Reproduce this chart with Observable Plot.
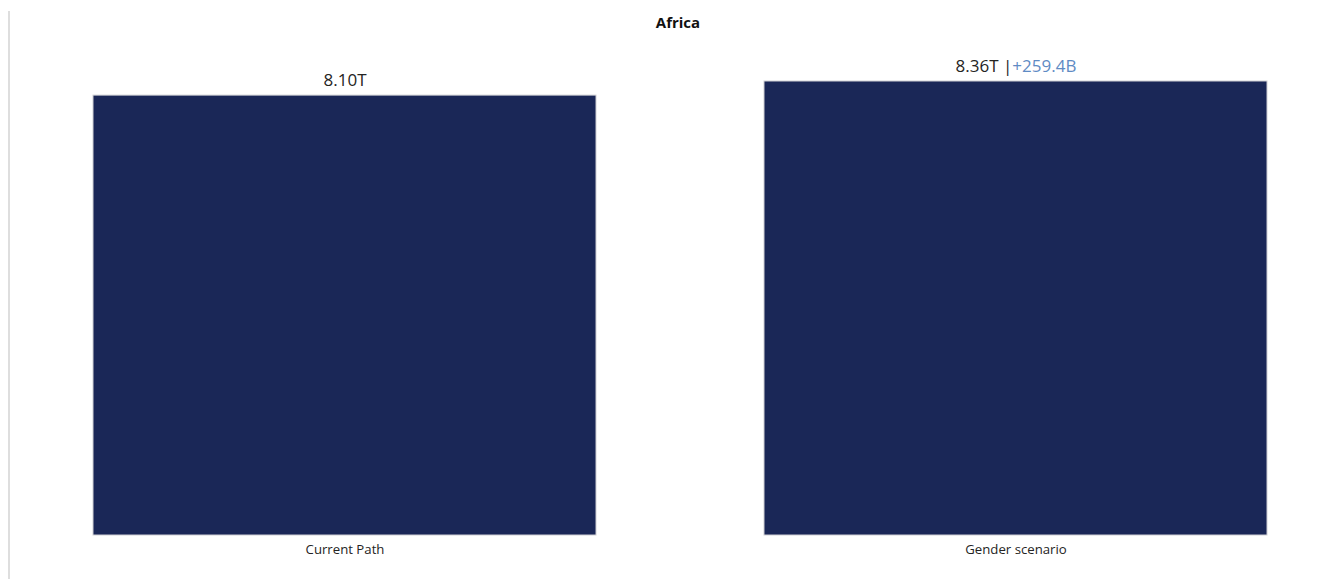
<!DOCTYPE html>
<html>
<head>
<meta charset="utf-8">
<script src="https://cdn.jsdelivr.net/npm/d3@7"></script>
<script src="https://cdn.jsdelivr.net/npm/@observablehq/plot@0.6"></script>
<style>
  html, body { margin: 0; padding: 0; background: #fff; }
  #wrap { position: relative; width: 1340px; height: 579px; overflow: hidden; font-family: "Open Sans", "Noto Sans", sans-serif; }
  #edge { position: absolute; left: 8px; top: 11px; width: 2px; height: 568px; background: #dedede; }
  #title { position: absolute; top: 12px; left: 0; width: 1356px; text-align: center; font-size: 15px; font-weight: bold; color: #111; font-family: "Open Sans", sans-serif; }
  #chart { position: absolute; top: 40px; left: 0; }
</style>
</head>
<body>
<div id="wrap">
  <div id="edge"></div>
  <div id="title">Africa</div>
  <div id="chart"></div>
</div>
<script>
const title = "Africa";
const categories = ["Current Path", "Gender scenario"];
const values = [8.10, 8.36];           // trillions
const valueLabels = ["8.10T", "8.36T"];
const deltaLabels = ["", "+259.4B"];

const data = categories.map((c, i) => ({
  category: c,
  value: values[i],
  label: valueLabels[i],
  delta: deltaLabels[i]
}));

const barColor = "#1a2757";

const chart = Plot.plot({
  width: 1340,
  height: 539,
  marginLeft: 92.5,
  marginRight: 72.5,
  marginTop: 41,
  marginBottom: 44,
  style: { fontFamily: "'Open Sans', sans-serif", background: "transparent" },
  x: { domain: categories, paddingInner: 0.25, paddingOuter: 0, label: null },
  y: { domain: [0, d3.max(values)], axis: null },
  marks: [
    Plot.barY(data, { x: "category", y: "value", fill: barColor, stroke: "#cfcfd4", strokeWidth: 1 }),
    Plot.axisX({ tickSize: 0, tickPadding: 9, fontSize: 13.2, color: "#252423", label: null }),
    Plot.text(data, {
      x: "category", y: "value",
      text: d => d.delta ? d.label + " |" + d.delta : d.label,
      dy: -15, fontSize: 17, fill: "#252423", lineAnchor: "middle"
    })
  ]
});
document.getElementById("chart").appendChild(chart);

// colour the delta part of composite labels
d3.select(chart).selectAll("text").each(function () {
  const t = this.textContent;
  if (t.includes("|") && t.includes("+")) {
    const idx = t.indexOf("|");
    const a = t.slice(0, idx + 1), b = t.slice(idx + 1);
    const el = d3.select(this);
    el.text(null);
    el.append("tspan").text(a);
    el.append("tspan").attr("fill", "#5f8bc4").text(b);
  }
});
</script>
</body>
</html>
